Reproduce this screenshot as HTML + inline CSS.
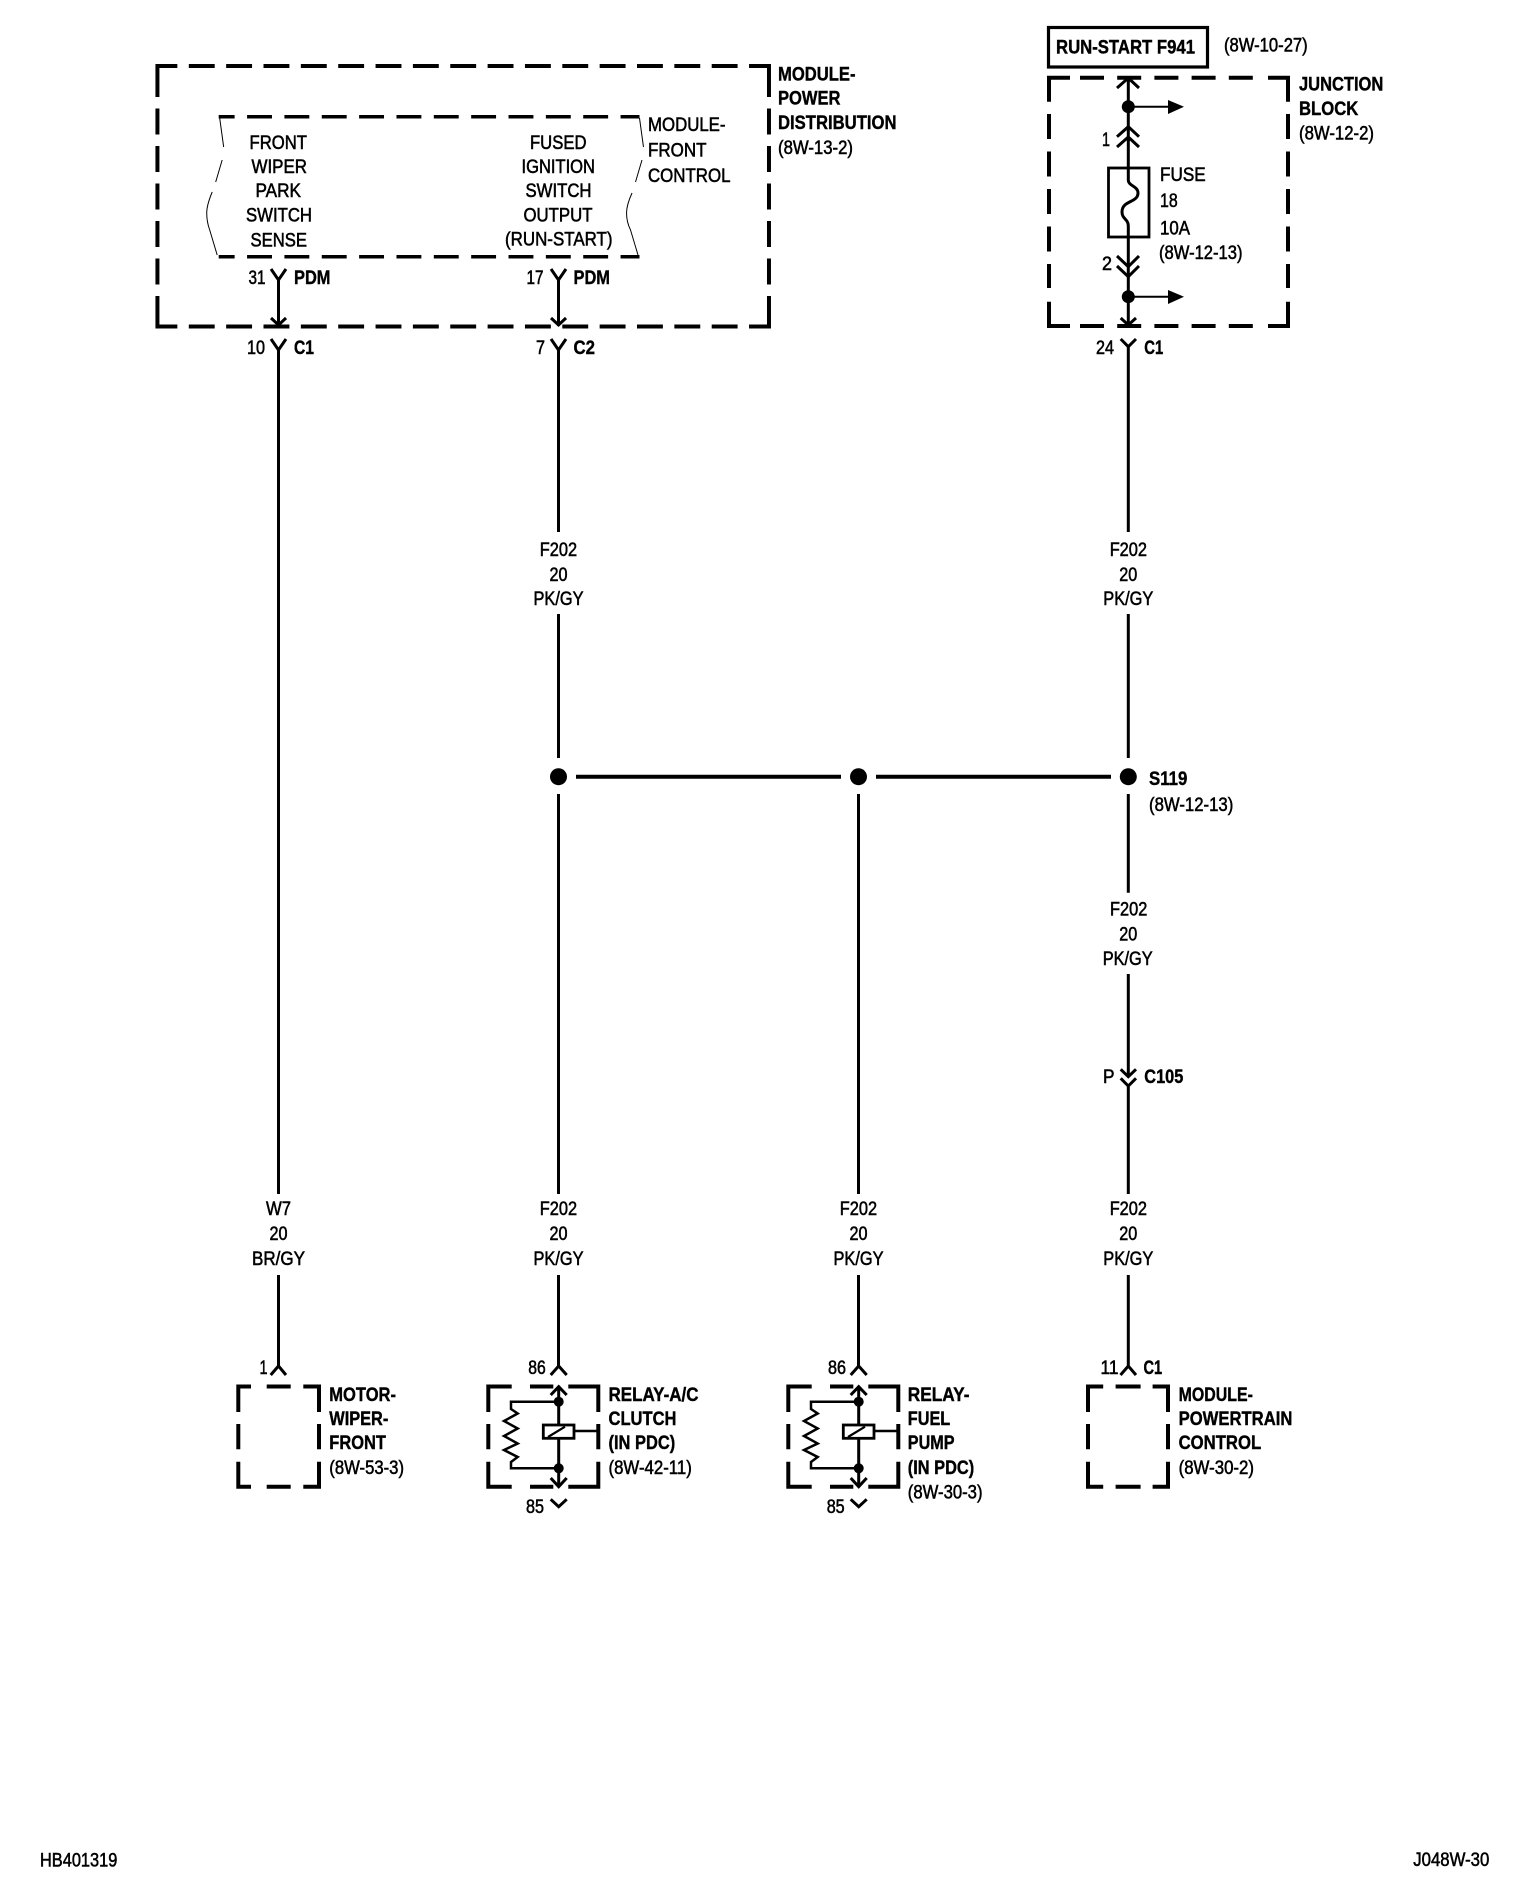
<!DOCTYPE html>
<html><head><meta charset="utf-8"><title>Wiring diagram J048W-30</title>
<style>
html,body{margin:0;padding:0;background:#fff}
svg{display:block}
text{font-family:"Liberation Sans",Arial,sans-serif;font-size:19px;fill:#000;stroke:#000;stroke-width:.55px}
.b{font-weight:bold;stroke-width:.4px}
.w{stroke:#000;stroke-width:3;fill:none}
.d{stroke:#000;stroke-width:4;fill:none}
</style></head><body>
<svg xmlns="http://www.w3.org/2000/svg" width="1520" height="1896" viewBox="0 0 1520 1896">
<rect width="1520" height="1896" fill="#fff"/>
<g transform="translate(140 0) scale(.996 1) translate(-140 0)">
<g class="d">
<path d="M157.5 97V66H177.5M751.5 66H771.5V97M157.5 296V326.5H177.5M751.5 326.5H771.5V296"/>
<path d="M189 66H740M189 326.5H740" stroke-dasharray="26 11.5"/>
<path d="M157.5 108.5V285M771.5 108.5V285" stroke-dasharray="26 11.5"/>
</g>
<g class="d" style="stroke-width:3.5">
<path d="M219 116.7H235M219 256.7H235M247.5 116.7H641.5M247.5 256.7H641.5" stroke-dasharray="25 12.5"/>
</g>
<g stroke="#000" stroke-width="1" fill="none">
<path d="M220 118L224 147M222.5 160L216 182M212.5 192Q207 205 207 213Q207 222 210 230L217.5 255"/>
<path d="M641.5 118L645.5 147M644 160L637.5 182M634 193Q628.5 205 628.5 213Q628.5 222 632.5 230L640 255"/>
</g>
</g>
<g class="w">
<path d="M271 269L278.5 280L286 269M278.5 280V326M271 318L278.5 325L286 318"/>
<path d="M271 339L278.5 350L286 339M278.5 350V1194M278.5 1275V1366M270.7 1375L278.5 1366L286 1375"/>
<path d="M551 269L558.5 280L566 269M558.5 280V326M551 318L558.5 325L566 318"/>
<path d="M551 339L558.5 350L566 339M558.5 350V532M558.5 614V758M558.5 794V1194M558.5 1275V1366"/>
<path d="M858.5 794V1194M858.5 1275V1366"/>
<path d="M1120.7 339L1128.3 346.7L1136 339M1128.3 346.7V532M1128.3 614V758M1128.3 794V892.7M1128.3 974V1076.7M1120.7 1069.3L1128.3 1076.7L1136 1069.3M1120.7 1078.3L1128.3 1086L1136 1078.3M1128.3 1086V1194M1128.3 1275V1366M1120.5 1375L1128.3 1366L1136 1375"/>
</g>
<path d="M576 776.7H841M876 776.7H1111" stroke="#000" stroke-width="4" fill="none"/>
<circle cx="558.5" cy="776.7" r="8.5"/><circle cx="858.5" cy="776.7" r="8.5"/><circle cx="1128.3" cy="776.7" r="8.5"/>
<rect x="1048.5" y="27.5" width="159" height="39.5" fill="none" stroke="#000" stroke-width="3.2"/>
<g class="d">
<path d="M1049 101.7V77.7H1070M1268 77.7H1288V101.7M1049 301.7V326H1070M1268 326H1288V301.7"/>
<path d="M1080 77.7H1255M1080 326H1255" stroke-dasharray="24 13.2"/>
<path d="M1049 114V288M1288 114V288" stroke-dasharray="25 12.5"/>
</g>
<g class="w">
<path d="M1128.3 78V168M1117 88L1128.3 78L1139 88M1117 136.7L1128.3 126.7L1139 136.7M1117 147L1128.3 137L1139 147"/>
<path d="M1128.3 168V180C1128.3 186 1138 186 1138 193C1138 203 1122 200 1122 212C1122 219 1128.3 219 1128.3 226V326"/>
<path d="M1117 256L1128.3 266.7L1139 256M1117 266L1128.3 276.7L1139 266M1120.7 318L1128.3 325L1136 318"/>
</g>
<rect x="1108.5" y="168" width="40.5" height="69" fill="none" stroke="#000" stroke-width="2.8"/>
<circle cx="1128.3" cy="106.7" r="6.5"/><circle cx="1128.3" cy="296.7" r="6.5"/>
<path d="M1128 106.7H1170M1128 296.7H1170" stroke="#000" stroke-width="2"/>
<path d="M1168 100L1184 106.7L1168 114ZM1168 290L1184 296.7L1168 304Z"/>
<g class="d">
<path d="M238.3 1412V1386.500H251M303.3 1386.500H319V1412M238.3 1461.700V1486.700H251M303.3 1486.700H319V1461.700M266.700 1386.500H290.700M266.700 1486.700H290.700M238.3 1424V1449.300M319 1424V1449.300"/>
<path d="M1088 1412V1386.500H1103.200M1152.600 1386.500H1168V1412M1088 1461.700V1486.700H1103.200M1152.600 1486.700H1168V1461.700M1115.600 1386.500H1140.600M1115.600 1486.700H1140.600M1088 1424V1449.300M1168 1424V1449.300"/>
</g>
<g>
<g class="d">
<path d="M488.3 1412V1386.500H511.700M568.300 1386.500H598.300V1412M488.3 1461.700V1486.700H511.700M568.300 1486.700H598.300V1461.700M530 1386.500H553.300M530 1486.700H553.300M488.3 1424V1449.300M598.3 1424V1449.300"/>
</g>
<g class="w">
<path d="M550.7 1375L558.700 1366L566.700 1375M550.7 1395L558.700 1386.700L566.700 1395M558.700 1386.700V1486.700M550.700 1478L558.700 1486.700L566.700 1478M550.700 1499.300L558.700 1506.700L566.700 1499.300"/>
<path style="stroke-width:2.500" d="M558.700 1401.700H511V1409L517.700 1413.500L504 1421L517.700 1428.500L504 1436L517.700 1443.500L504 1450L517.700 1457L511 1462V1468.300H558.700"/>
<path style="stroke-width:2.500" d="M574 1431H598"/>
</g>
<rect x="543.3" y="1425" width="30.7" height="13.3" fill="#fff" stroke="#000" stroke-width="2.8"/>
<path d="M548 1437L565 1426.700" stroke="#000" stroke-width="2.200"/>
<circle cx="558.7" cy="1401.700" r="5"/><circle cx="558.7" cy="1468.300" r="5"/>
</g>
<g transform="translate(300,0)">
<g class="d">
<path d="M488.3 1412V1386.500H511.700M568.300 1386.500H598.300V1412M488.3 1461.700V1486.700H511.700M568.300 1486.700H598.300V1461.700M530 1386.500H553.300M530 1486.700H553.300M488.3 1424V1449.300M598.3 1424V1449.300"/>
</g>
<g class="w">
<path d="M550.7 1375L558.700 1366L566.700 1375M550.7 1395L558.700 1386.700L566.700 1395M558.700 1386.700V1486.700M550.700 1478L558.700 1486.700L566.700 1478M550.700 1499.300L558.700 1506.700L566.700 1499.300"/>
<path style="stroke-width:2.500" d="M558.700 1401.700H511V1409L517.700 1413.500L504 1421L517.700 1428.500L504 1436L517.700 1443.500L504 1450L517.700 1457L511 1462V1468.300H558.700"/>
<path style="stroke-width:2.500" d="M574 1431H598"/>
</g>
<rect x="543.3" y="1425" width="30.7" height="13.3" fill="#fff" stroke="#000" stroke-width="2.8"/>
<path d="M548 1437L565 1426.700" stroke="#000" stroke-width="2.200"/>
<circle cx="558.7" cy="1401.700" r="5"/><circle cx="558.7" cy="1468.300" r="5"/>
</g>
<g transform="translate(0,-1)">
<text class="b" x="778" y="81.7" textLength="77.5" lengthAdjust="spacingAndGlyphs">MODULE-</text>
<text class="b" x="778" y="105.700" textLength="62.5" lengthAdjust="spacingAndGlyphs">POWER</text>
<text class="b" x="778" y="130" textLength="118.5" lengthAdjust="spacingAndGlyphs">DISTRIBUTION</text>
<text x="778" y="155" textLength="75" lengthAdjust="spacingAndGlyphs">(8W-13-2)</text>
<text x="648" y="132" textLength="77.5" lengthAdjust="spacingAndGlyphs">MODULE-</text>
<text x="648" y="157.7" textLength="58.5" lengthAdjust="spacingAndGlyphs">FRONT</text>
<text x="648" y="183" textLength="82.5" lengthAdjust="spacingAndGlyphs">CONTROL</text>
<text x="249.500" y="150" textLength="57.5" lengthAdjust="spacingAndGlyphs">FRONT</text>
<text x="251.500" y="174" textLength="55.5" lengthAdjust="spacingAndGlyphs">WIPER</text>
<text x="255.500" y="198" textLength="45.5" lengthAdjust="spacingAndGlyphs">PARK</text>
<text x="246" y="222.5" textLength="66" lengthAdjust="spacingAndGlyphs">SWITCH</text>
<text x="250.500" y="247.5" textLength="56.5" lengthAdjust="spacingAndGlyphs">SENSE</text>
<text x="530" y="150" textLength="56.5" lengthAdjust="spacingAndGlyphs">FUSED</text>
<text x="521.500" y="174" textLength="73.5" lengthAdjust="spacingAndGlyphs">IGNITION</text>
<text x="525.500" y="198" textLength="66" lengthAdjust="spacingAndGlyphs">SWITCH</text>
<text x="523.500" y="222.5" textLength="69" lengthAdjust="spacingAndGlyphs">OUTPUT</text>
<text x="505" y="246.5" textLength="107.5" lengthAdjust="spacingAndGlyphs">(RUN-START)</text>
<text x="248.5" y="285" textLength="17" lengthAdjust="spacingAndGlyphs">31</text>
<text class="b" x="294" y="285" textLength="36.5" lengthAdjust="spacingAndGlyphs">PDM</text>
<text x="526.5" y="285" textLength="17" lengthAdjust="spacingAndGlyphs">17</text>
<text class="b" x="573.5" y="285" textLength="36.5" lengthAdjust="spacingAndGlyphs">PDM</text>
<text x="247" y="355" textLength="18" lengthAdjust="spacingAndGlyphs">10</text>
<text class="b" x="294" y="355" textLength="20" lengthAdjust="spacingAndGlyphs">C1</text>
<text x="536" y="355" textLength="9" lengthAdjust="spacingAndGlyphs">7</text>
<text class="b" x="573.5" y="355" textLength="21.5" lengthAdjust="spacingAndGlyphs">C2</text>
<text class="b" x="1056" y="54.3" textLength="139" lengthAdjust="spacingAndGlyphs">RUN-START F941</text>
<text x="1224" y="52.700" textLength="83.7" lengthAdjust="spacingAndGlyphs">(8W-10-27)</text>
<text class="b" x="1299" y="91.7" textLength="84.3" lengthAdjust="spacingAndGlyphs">JUNCTION</text>
<text class="b" x="1299" y="116.2" textLength="59.3" lengthAdjust="spacingAndGlyphs">BLOCK</text>
<text x="1299" y="140.7" textLength="75" lengthAdjust="spacingAndGlyphs">(8W-12-2)</text>
<text x="1102" y="147" textLength="8" lengthAdjust="spacingAndGlyphs">1</text>
<text x="1160" y="182" textLength="45.7" lengthAdjust="spacingAndGlyphs">FUSE</text>
<text x="1160" y="208" textLength="17.7" lengthAdjust="spacingAndGlyphs">18</text>
<text x="1160" y="235.7" textLength="30" lengthAdjust="spacingAndGlyphs">10A</text>
<text x="1159" y="260" textLength="83.5" lengthAdjust="spacingAndGlyphs">(8W-12-13)</text>
<text x="1102" y="271" textLength="10" lengthAdjust="spacingAndGlyphs">2</text>
<text x="1096" y="355" textLength="18" lengthAdjust="spacingAndGlyphs">24</text>
<text class="b" x="1144.3" y="355" textLength="19" lengthAdjust="spacingAndGlyphs">C1</text>
<text x="539.8" y="557" textLength="37.3" lengthAdjust="spacingAndGlyphs">F202</text>
<text x="549.5" y="582" textLength="18" lengthAdjust="spacingAndGlyphs">20</text>
<text x="533.5" y="606" textLength="50" lengthAdjust="spacingAndGlyphs">PK/GY</text>
<text x="1109.7" y="557" textLength="37.3" lengthAdjust="spacingAndGlyphs">F202</text>
<text x="1119.3" y="582" textLength="18" lengthAdjust="spacingAndGlyphs">20</text>
<text x="1103.3" y="606" textLength="50" lengthAdjust="spacingAndGlyphs">PK/GY</text>
<text class="b" x="1149" y="786" textLength="38.3" lengthAdjust="spacingAndGlyphs">S119</text>
<text x="1149" y="812" textLength="84.3" lengthAdjust="spacingAndGlyphs">(8W-12-13)</text>
<text x="1110" y="916.7" textLength="37.3" lengthAdjust="spacingAndGlyphs">F202</text>
<text x="1119.3" y="941.7" textLength="18" lengthAdjust="spacingAndGlyphs">20</text>
<text x="1102.7" y="966" textLength="50" lengthAdjust="spacingAndGlyphs">PK/GY</text>
<text x="1103" y="1084" textLength="11.5" lengthAdjust="spacingAndGlyphs">P</text>
<text class="b" x="1144.3" y="1084" textLength="39" lengthAdjust="spacingAndGlyphs">C105</text>
<text x="266" y="1216" textLength="25" lengthAdjust="spacingAndGlyphs">W7</text>
<text x="269.5" y="1241" textLength="18" lengthAdjust="spacingAndGlyphs">20</text>
<text x="252" y="1266" textLength="53" lengthAdjust="spacingAndGlyphs">BR/GY</text>
<text x="539.8" y="1216" textLength="37.3" lengthAdjust="spacingAndGlyphs">F202</text>
<text x="549.5" y="1241" textLength="18" lengthAdjust="spacingAndGlyphs">20</text>
<text x="533.5" y="1266" textLength="50" lengthAdjust="spacingAndGlyphs">PK/GY</text>
<text x="839.8" y="1216" textLength="37.3" lengthAdjust="spacingAndGlyphs">F202</text>
<text x="849.5" y="1241" textLength="18" lengthAdjust="spacingAndGlyphs">20</text>
<text x="833.5" y="1266" textLength="50" lengthAdjust="spacingAndGlyphs">PK/GY</text>
<text x="1109.7" y="1216" textLength="37.3" lengthAdjust="spacingAndGlyphs">F202</text>
<text x="1119.3" y="1241" textLength="18" lengthAdjust="spacingAndGlyphs">20</text>
<text x="1103.3" y="1266" textLength="50" lengthAdjust="spacingAndGlyphs">PK/GY</text>
<text x="259.5" y="1375" textLength="8" lengthAdjust="spacingAndGlyphs">1</text>
<text class="b" x="329.3" y="1402" textLength="66.7" lengthAdjust="spacingAndGlyphs">MOTOR-</text>
<text class="b" x="329.3" y="1426" textLength="59" lengthAdjust="spacingAndGlyphs">WIPER-</text>
<text class="b" x="329.3" y="1450" textLength="56.7" lengthAdjust="spacingAndGlyphs">FRONT</text>
<text x="329.3" y="1475" textLength="74.7" lengthAdjust="spacingAndGlyphs">(8W-53-3)</text>
<text x="528.3" y="1375" textLength="17.5" lengthAdjust="spacingAndGlyphs">86</text>
<text x="526" y="1514" textLength="18" lengthAdjust="spacingAndGlyphs">85</text>
<text class="b" x="608.5" y="1402" textLength="90" lengthAdjust="spacingAndGlyphs">RELAY-A/C</text>
<text class="b" x="608.5" y="1426" textLength="68" lengthAdjust="spacingAndGlyphs">CLUTCH</text>
<text class="b" x="608.5" y="1450" textLength="66.7" lengthAdjust="spacingAndGlyphs">(IN PDC)</text>
<text x="608.5" y="1475" textLength="83.3" lengthAdjust="spacingAndGlyphs">(8W-42-11)</text>
<text x="828" y="1375" textLength="18" lengthAdjust="spacingAndGlyphs">86</text>
<text x="826.7" y="1514" textLength="18" lengthAdjust="spacingAndGlyphs">85</text>
<text class="b" x="907.8" y="1402" textLength="61.7" lengthAdjust="spacingAndGlyphs">RELAY-</text>
<text class="b" x="907.8" y="1426" textLength="42.4" lengthAdjust="spacingAndGlyphs">FUEL</text>
<text class="b" x="907.8" y="1450" textLength="46.7" lengthAdjust="spacingAndGlyphs">PUMP</text>
<text class="b" x="907.8" y="1475" textLength="66.4" lengthAdjust="spacingAndGlyphs">(IN PDC)</text>
<text x="907.8" y="1499.500" textLength="74.7" lengthAdjust="spacingAndGlyphs">(8W-30-3)</text>
<text x="1100.5" y="1375" textLength="18" lengthAdjust="spacingAndGlyphs">11</text>
<text class="b" x="1143.5" y="1375" textLength="18.7" lengthAdjust="spacingAndGlyphs">C1</text>
<text class="b" x="1178.6" y="1402" textLength="74.3" lengthAdjust="spacingAndGlyphs">MODULE-</text>
<text class="b" x="1178.6" y="1426" textLength="113.8" lengthAdjust="spacingAndGlyphs">POWERTRAIN</text>
<text class="b" x="1178.6" y="1450" textLength="82.6" lengthAdjust="spacingAndGlyphs">CONTROL</text>
<text x="1178.6" y="1475" textLength="75.4" lengthAdjust="spacingAndGlyphs">(8W-30-2)</text>
<text x="40" y="1867.7" textLength="77.3" lengthAdjust="spacingAndGlyphs">HB401319</text>
<text x="1413.3" y="1867" textLength="76" lengthAdjust="spacingAndGlyphs">J048W-30</text>
</g>
</svg>
</body></html>
